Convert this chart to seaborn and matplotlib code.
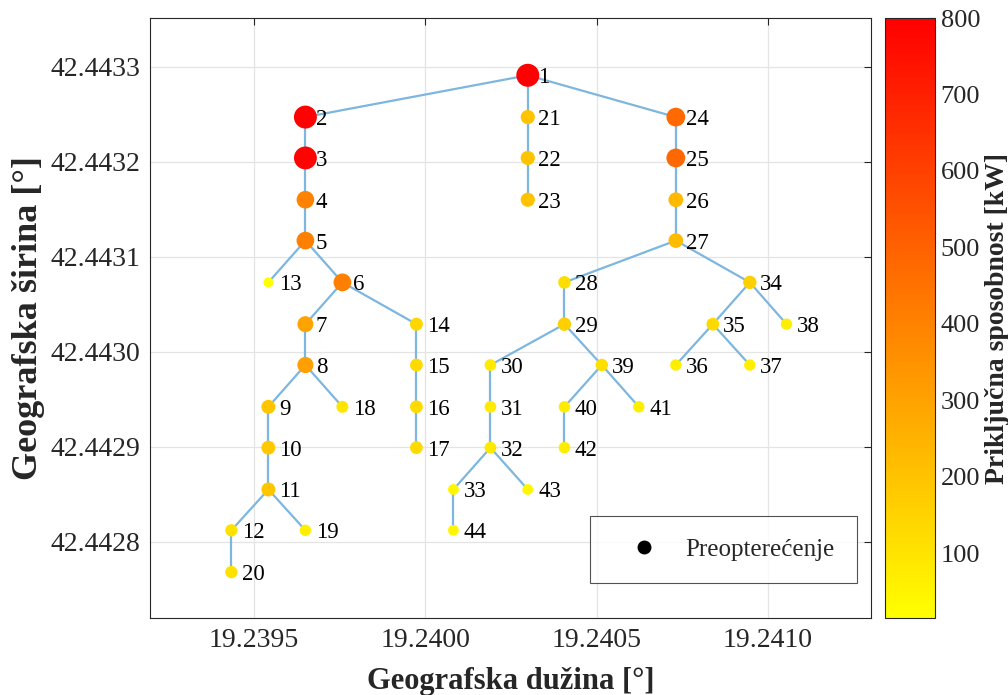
import matplotlib
matplotlib.use("Agg")
import matplotlib.pyplot as plt
from matplotlib.colors import Normalize
from matplotlib.cm import ScalarMappable
from matplotlib.lines import Line2D
import seaborn as sns
import pandas as pd

# Network nodes (bus numbers) with geographic coordinates
node_ids = list(range(1, 45))
lon = [
    19.240299, 19.239650, 19.239650, 19.239650, 19.239650, 19.239758, 19.239650, 19.239650,
    19.239542, 19.239542, 19.239542, 19.239434, 19.239542, 19.239974, 19.239974, 19.239974,
    19.239974, 19.239758, 19.239650, 19.239434, 19.240299, 19.240299, 19.240299, 19.240731,
    19.240731, 19.240731, 19.240731, 19.240406, 19.240406, 19.240190, 19.240190, 19.240190,
    19.240082, 19.240947, 19.240839, 19.240731, 19.240947, 19.241054, 19.240515, 19.240406,
    19.240623, 19.240406, 19.240299, 19.240082,
]
lat = [
    42.443291, 42.443247, 42.443204, 42.443160, 42.443117, 42.443073, 42.443029, 42.442986,
    42.442942, 42.442899, 42.442855, 42.442812, 42.443073, 42.443029, 42.442986, 42.442942,
    42.442899, 42.442942, 42.442812, 42.442768, 42.443247, 42.443204, 42.443160, 42.443247,
    42.443204, 42.443160, 42.443117, 42.443073, 42.443029, 42.442986, 42.442942, 42.442899,
    42.442855, 42.443073, 42.443029, 42.442986, 42.442986, 42.443029, 42.442986, 42.442942,
    42.442942, 42.442899, 42.442855, 42.442812,
]
# Hosting capacity at each node [kW]
capacity = [
    800, 795, 790, 400, 405, 410, 300, 310,
    190, 185, 190, 110, 15, 140, 130, 130,
    130, 95, 70, 110, 200, 200, 200, 475,
    480, 230, 225, 120, 160, 80, 80, 85,
    45, 160, 130, 70, 70, 70, 115, 75,
    70, 75, 45, 45,
]
# Feeder branches (from bus, to bus)
branches = [
    (1, 2), (2, 3), (3, 4), (4, 5), (5, 13), (5, 6), (6, 7), (7, 8), (8, 9), (8, 18),
    (9, 10), (10, 11), (11, 12), (11, 19), (12, 20), (6, 14), (14, 15), (15, 16), (16, 17),
    (1, 21), (21, 22), (22, 23), (1, 24), (24, 25), (25, 26), (26, 27), (27, 28), (28, 29),
    (29, 30), (30, 31), (31, 32), (32, 33), (33, 44), (32, 43), (29, 39), (39, 40), (40, 42),
    (39, 41), (27, 34), (34, 35), (35, 36), (35, 37), (34, 38),
]
x_ticks = [19.2395, 19.2400, 19.2405, 19.2410]
y_ticks = [42.4428, 42.4429, 42.4430, 42.4431, 42.4432, 42.4433]
cbar_ticks = [100, 200, 300, 400, 500, 600, 700, 800]
cap_range = (15, 800)

sns.set_theme(style="white")
plt.rcParams["font.family"] = ["Liberation Serif", "DejaVu Serif"]

dark = "#262626"
fig = plt.figure(figsize=(10.08, 6.95), dpi=100)
ax = fig.add_axes([150 / 1008, 77 / 695, 721 / 1008, 600 / 695])
cax = fig.add_axes([885 / 1008, 77 / 695, 50 / 1008, 600 / 695])

for a, b in branches:
    ax.plot([lon[a - 1], lon[b - 1]], [lat[a - 1], lat[b - 1]],
            color="#7DB6DF", lw=1.6, zorder=1, solid_capstyle="round")

df = pd.DataFrame({"lon": lon, "lat": lat, "cap": capacity, "bus": node_ids})
sns.scatterplot(data=df, x="lon", y="lat", hue="cap", size="cap",
                palette="autumn_r", hue_norm=cap_range,
                sizes=(52, 274), size_norm=cap_range,
                linewidth=0, legend=False, ax=ax, zorder=3)

for _, row in df.iterrows():
    ax.annotate(str(int(row["bus"])), (row["lon"], row["lat"]),
                xytext=(7.5, 0), textcoords="offset points",
                ha="left", va="center_baseline", fontsize=16.5, color="black", zorder=4)

ax.set_xlim(19.2391965, 19.2413006)
ax.set_ylim(42.4427197, 42.4433513)
ax.set_xticks(x_ticks)
ax.set_xticklabels([f"{v:.4f}" for v in x_ticks])
ax.set_yticks(y_ticks)
ax.set_yticklabels([f"{v:.4f}" for v in y_ticks])
ax.tick_params(direction="in", top=True, right=True, length=5, width=0.8,
               labelsize=20, color=dark, labelcolor=dark, pad=7)
ax.grid(True, color="#e4e4e4", lw=0.9)
ax.set_axisbelow(True)
for sp in ax.spines.values():
    sp.set_color(dark)
    sp.set_linewidth(0.8)

ax.set_xlabel("Geografska dužina [°]", fontsize=22, fontweight="bold", color=dark, labelpad=10)
ax.set_ylabel("Geografska širina [°]", fontsize=26, fontweight="bold", color=dark, labelpad=4)

handle = Line2D([], [], marker="o", color="black", linestyle="none", markersize=9)
leg = ax.legend([handle], ["Preopterećenje"], loc="lower right",
                bbox_to_anchor=(0.9806, 0.0583), fontsize=18, frameon=True,
                fancybox=False, edgecolor=dark, borderpad=0.9, handlelength=2.5,
                handletextpad=0.4, borderaxespad=0)
leg.get_frame().set_linewidth(0.8)

sm = ScalarMappable(norm=Normalize(*cap_range), cmap="autumn_r")
cb = fig.colorbar(sm, cax=cax)
cb.set_ticks(cbar_ticks)
cb.ax.tick_params(direction="in", length=5, width=0.8, labelsize=19,
                  color=dark, labelcolor=dark, pad=4)
cb.outline.set_linewidth(0.8)
cb.outline.set_edgecolor(dark)
cb.set_label("Priključna sposobnost [kW]", fontsize=20, fontweight="bold", color=dark)
cb.ax.yaxis.set_label_coords(2.0, 0.5)

fig.savefig("out.png", dpi=100)
